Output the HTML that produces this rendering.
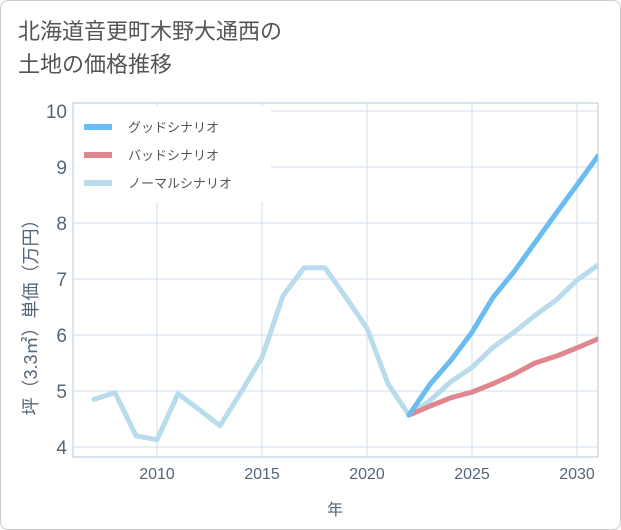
<!DOCTYPE html>
<html><head><meta charset="utf-8"><style>
body{margin:0;background:#fff;font-family:"Liberation Sans","Noto Sans CJK JP",sans-serif;}
#wrap{position:relative;width:619px;height:528px;border:1px solid #ccc;border-radius:8px;overflow:hidden;}
#title{position:absolute;left:17px;top:14px;font-size:22px;line-height:33px;color:#555;}
</style></head><body>
<div id="wrap">
<div id="title">北海道音更町木野大通西の<br>土地の価格推移</div>
<svg id="chart" width="621" height="530" style="position:absolute;left:0;top:0"></svg>
</div>
<script>
const years=[2007,2008,2009,2010,2011,2012,2013,2014,2015,2016,2017,2018,2019,2020,2021,2022];
const histVals=[4.85,4.97,4.2,4.13,4.95,4.67,4.38,4.98,5.6,6.7,7.2,7.2,6.67,6.12,5.13,4.57];
const futYears=[2022,2023,2024,2025,2026,2027,2028,2029,2030,2031];
const goodVals=[4.57,5.12,5.55,6.05,6.67,7.13,7.65,8.17,8.68,9.2];
const badVals=[4.57,4.73,4.88,4.98,5.13,5.3,5.5,5.62,5.77,5.93];
const normVals=[4.57,4.83,5.17,5.42,5.78,6.05,6.35,6.62,6.98,7.25];
const xTicks=[2010,2015,2020,2025,2030];
const yTicks=[4,5,6,7,8,9,10];
const NS='http://www.w3.org/2000/svg';
const svg=document.getElementById('chart');
const L=72,R=597,T=102,B=456;
const x=v=>156+(v-2010)*21;
const y=v=>446-(v-4)*56;
function mk(t,a,txt){const e=document.createElementNS(NS,t);for(const k in a)e.setAttribute(k,a[k]);if(txt!=null)e.textContent=txt;svg.appendChild(e);return e;}
mk('rect',{x:L,y:T,width:R-L,height:B-T,fill:'#fff',stroke:'#b8c8d8'});
xTicks.forEach(t=>{const g=mk('line',{x1:x(t),x2:x(t),y1:T,y2:B,stroke:'#d0dde8'});

const l=mk('text',{x:x(t),y:478,'text-anchor':'middle','font-size':16,fill:'#556677'},t);
});
yTicks.forEach(t=>{const g=mk('line',{x1:L,x2:R,y1:y(t),y2:y(t),stroke:'#d0dde8'});

const l=mk('text',{x:66,y:y(t)+7,'text-anchor':'end','font-size':19,fill:'#556677'},t);
});
const xt=mk('text',{x:334,y:514,'text-anchor':'middle','font-size':16,fill:'#556677'},'年');

const yt=mk('text',{x:0,y:0,'text-anchor':'middle','font-size':18,fill:'#556677',transform:'translate(36,312) rotate(-90)'},'坪（3.3㎡）単価（万円）');

function line(xs,vs,c,n){const p=mk('polyline',{points:xs.map((v,i)=>x(v)+','+y(vs[i])).join(' '),fill:'none',stroke:c,'stroke-width':5,'stroke-linejoin':'round','stroke-linecap':'round'});
}
const cp=mk('clipPath',{id:'cp'});const cr=document.createElementNS(NS,'rect');cr.setAttribute('x',L);cr.setAttribute('y',T);cr.setAttribute('width',R-L);cr.setAttribute('height',B-T);cp.appendChild(cr);
line(years,histVals,'#b9dced','history-line');
line(futYears,normVals,'#b9dced','normal-line');
line(futYears,badVals,'#e0868f','bad-line');
line(futYears,goodVals,'#6bbcf0','good-line');
svg.querySelectorAll('polyline').forEach(p=>p.setAttribute('clip-path','url(#cp)'));
mk('rect',{x:L+2,y:T+3,width:196,height:96,fill:'#fff'});
[['グッドシナリオ','#6bbcf0'],['バッドシナリオ','#e0868f'],['ノーマルシナリオ','#b9dced']].forEach((e,i)=>{
const yy=126+i*28;
const s=mk('line',{x1:83,x2:111,y1:yy,y2:yy,stroke:e[1],'stroke-width':6});

const t=mk('text',{x:127,y:yy+5,'font-size':13,fill:'#555'},e[0]);
});
</script>
</body></html>
